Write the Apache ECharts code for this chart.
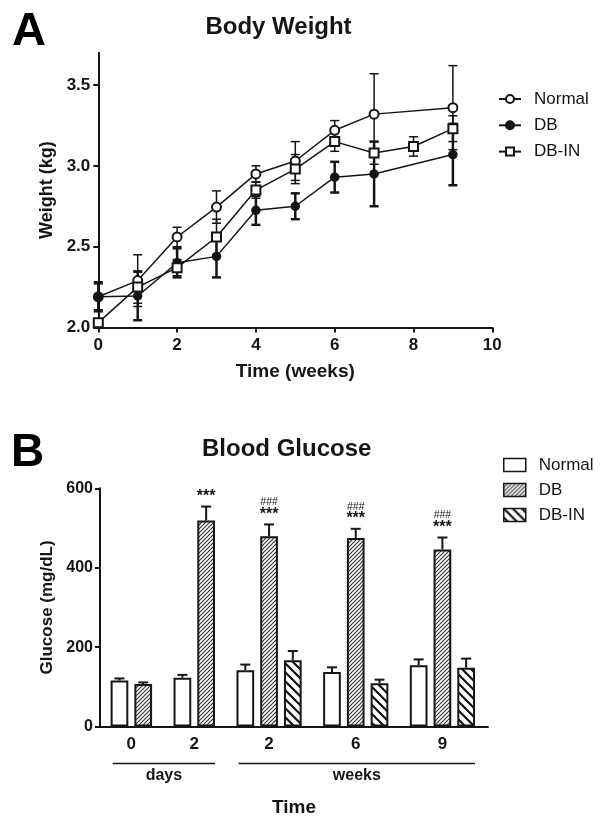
<!DOCTYPE html>
<html><head><meta charset="utf-8">
<script src="https://cdn.jsdelivr.net/npm/echarts@6/dist/echarts.min.js"></script>
<style>html,body{margin:0;padding:0;background:#fff}#c{width:604px;height:825px}</style>
</head><body><div id="c"></div>
<script>
const FONT = '"Liberation Sans", Arial, sans-serif';
const INK = '#151515';

// ---------- Panel A: Body Weight ----------
const seriesNames = ['Normal', 'DB', 'DB-IN'];
const weeksNormal = [0, 1, 2, 3, 4, 5, 6, 7, 9];
const weightNormal = [2.19, 2.29, 2.56, 2.745, 2.95, 3.03, 3.22, 3.32, 3.36];
const weightNormalErr = [0.08, 0.16, 0.06, 0.10, 0.05, 0.12, 0.06, 0.25, 0.26];
const weeksDB = [0, 1, 2, 3, 4, 5, 6, 7, 9];
const weightDB = [2.19, 2.195, 2.40, 2.44, 2.725, 2.75, 2.93, 2.95, 3.07];
const weightDBErr = [0.09, 0.15, 0.09, 0.13, 0.09, 0.08, 0.095, 0.20, 0.19];
const weeksDBIN = [0, 1, 2, 3, 4, 5, 6, 7, 8, 9];
const weightDBIN = [2.03, 2.25, 2.37, 2.56, 2.85, 2.98, 3.15, 3.08, 3.12, 3.23];
const weightDBINErr = [0.01, 0.10, 0.05, 0.11, 0.05, 0.09, 0.06, 0.07, 0.06, 0.08];
const weightTicks = [2.0, 2.5, 3.0, 3.5];

// ---------- Panel B: Blood Glucose ----------
const glucoseGroups = ['0', '2', '2', '6', '9'];
const glucoseNormal = [116, 123, 142, 137, 154];
const glucoseNormalErr = [5, 7, 14, 12, 15];
const glucoseDB = [107, 519, 479, 475, 446];
const glucoseDBErr = [4, 35, 30, 23, 30];
const glucoseDBIN = [null, null, 167, 109, 148];
const glucoseDBINErr = [null, null, 23, 9, 23];
const sigStars = ['', '***', '***', '***', '***'];
const sigHashes = ['', '', '###', '###', '###'];
const periodLabels = ['days', 'weeks'];
const periodGroups = [[0, 1], [2, 4]];

// ---------- layout of grouped bars (slot units on a value axis) ----------
const FIRST = 0.82, GROUP_GAP = 0.65, BAR_FRAC = 0.745, X_MAX_B = 16.34;
const gVals = [glucoseNormal, glucoseDB, glucoseDBIN];
const gErrs = [glucoseNormalErr, glucoseDBErr, glucoseDBINErr];
const barX = [[], [], []], groupCenter = [], groupFirst = [], groupLast = [];
let cur = FIRST;
glucoseGroups.forEach((_, g) => {
  const xs = [];
  gVals.forEach((vals, s) => {
    if (vals[g] != null) { barX[s][g] = cur; xs.push(cur); cur += 1; } else barX[s][g] = null;
  });
  cur += GROUP_GAP;
  groupFirst[g] = xs[0]; groupLast[g] = xs[xs.length - 1];
  groupCenter[g] = (xs[0] + xs[xs.length - 1]) / 2;
});

function hatch(size, lw, color, dir) {
  const c = document.createElement('canvas'); c.width = size; c.height = size;
  const ctx = c.getContext('2d');
  ctx.fillStyle = '#fff'; ctx.fillRect(0, 0, size, size);
  ctx.strokeStyle = color; ctx.lineWidth = lw; ctx.beginPath();
  if (dir > 0) {
    [0, size, 2 * size].forEach(k => { ctx.moveTo(k + 1, -1); ctx.lineTo(k - size - 1, size + 1); });
  } else {
    [-size, 0, size].forEach(k => { ctx.moveTo(k - 1, -1); ctx.lineTo(k + size + 1, size + 1); });
  }
  ctx.stroke();
  return { image: c, repeat: 'repeat' };
}
const fills = ['#ffffff', hatch(4, 1.1, '#333', 1), hatch(9, 2.2, '#111', -1)];

const chart = echarts.init(document.getElementById('c'), null, { renderer: 'canvas' });

function errA(name, xs, ys, es, lw) {
  return {
    name: name, type: 'custom', xAxisIndex: 0, yAxisIndex: 0, z: 2,
    data: xs.map((x, i) => [x, ys[i], es[i]]),
    encode: { x: 0, y: 1 },
    renderItem(params, api) {
      const x = api.value(0), y = api.value(1), e = api.value(2);
      const lo = api.coord([x, y - e]), hi = api.coord([x, y + e]);
      const hw = 4.5, st = { stroke: INK, lineWidth: lw };
      return { type: 'group', children: [
        { type: 'line', shape: { x1: lo[0], y1: lo[1], x2: hi[0], y2: hi[1] }, style: st },
        { type: 'line', shape: { x1: lo[0] - hw, y1: lo[1], x2: lo[0] + hw, y2: lo[1] }, style: st },
        { type: 'line', shape: { x1: hi[0] - hw, y1: hi[1], x2: hi[0] + hw, y2: hi[1] }, style: st }
      ] };
    }
  };
}
function lineA(name, xs, ys, symbol, size) {
  return {
    name: name, type: 'line', xAxisIndex: 0, yAxisIndex: 0, z: 3,
    data: xs.map((x, i) => [x, ys[i]]),
    symbol: symbol, symbolSize: size,
    lineStyle: { color: INK, width: 1.5 },
    itemStyle: { color: INK, borderColor: INK, borderWidth: 1.5 },
    emphasis: { disabled: true }
  };
}
function barB(s) {
  const data = [];
  glucoseGroups.forEach((_, g) => { if (gVals[s][g] != null) data.push([barX[s][g], gVals[s][g]]); });
  return {
    name: 'B:' + seriesNames[s], type: 'bar', xAxisIndex: 1, yAxisIndex: 1, z: 3,
    data: data, barWidth: 17.7, barGap: '-100%',
    itemStyle: { color: fills[s], borderColor: INK, borderWidth: 2 },
    emphasis: { disabled: true }
  };
}
function errB(s) {
  const data = [];
  glucoseGroups.forEach((_, g) => { if (gVals[s][g] != null) data.push([barX[s][g], gVals[s][g], gErrs[s][g], g]); });
  return {
    name: 'errB' + s, type: 'custom', xAxisIndex: 1, yAxisIndex: 1, z: 2,
    data: data, encode: { x: 0, y: 1 },
    renderItem(params, api) {
      const x = api.value(0), v = api.value(1), e = api.value(2), g = api.value(3);
      const p0 = api.coord([x, v]), p1 = api.coord([x, v + e]);
      const st = { stroke: INK, lineWidth: 2 }, hw = 5;
      const ch = [
        { type: 'line', shape: { x1: p0[0], y1: p0[1], x2: p1[0], y2: p1[1] }, style: st },
        { type: 'line', shape: { x1: p1[0] - hw, y1: p1[1], x2: p1[0] + hw, y2: p1[1] }, style: st }
      ];
      if (s === 1) {
        if (sigStars[g]) ch.push({ type: 'text', x: p1[0], y: p1[1] - 10, style: { text: sigStars[g], align: 'center', verticalAlign: 'middle', font: 'bold 16px ' + FONT, fill: INK } });
        if (sigHashes[g]) ch.push({ type: 'text', x: p1[0], y: p1[1] - 22, style: { text: sigHashes[g], align: 'center', verticalAlign: 'middle', font: '10.5px ' + FONT, fill: INK } });
      }
      return { type: 'group', children: ch };
    }
  };
}
const bracketSeries = {
  name: 'periods', type: 'custom', xAxisIndex: 1, yAxisIndex: 1, z: 2,
  data: periodGroups.map(p => [groupFirst[p[0]] - BAR_FRAC / 2 + 0.09, groupLast[p[1]] + BAR_FRAC / 2, 0]),
  encode: { x: [0, 1], y: 2 },
  renderItem(params, api) {
    const a = api.coord([api.value(0), 0]), b = api.coord([api.value(1), 0]);
    const y = a[1] + 37;
    return { type: 'group', children: [
      { type: 'line', shape: { x1: a[0], y1: y, x2: b[0], y2: y }, style: { stroke: INK, lineWidth: 1.5 } },
      { type: 'text', x: (a[0] + b[0]) / 2, y: a[1] + 49, style: { text: periodLabels[params.dataIndex], align: 'center', verticalAlign: 'middle', font: 'bold 16px ' + FONT, fill: INK } }
    ] };
  }
};

const axisLine = { show: true, lineStyle: { color: INK, width: 2 } };
const tick = { show: true, inside: false, length: 5, lineStyle: { color: INK, width: 2 } };
const tickLabel = { color: INK, fontFamily: FONT, fontWeight: 'bold', fontSize: 17, margin: 9 };
const nameStyle = (sz) => ({ color: INK, fontFamily: FONT, fontWeight: 'bold', fontSize: sz });

const option = {
  animation: false,
  backgroundColor: '#fff',
  graphic: [
    { type: 'text', x: 12, y: 32, style: { text: 'A', align: 'left', verticalAlign: 'middle', font: 'bold 47px ' + FONT, fill: '#000' } },
    { type: 'text', x: 278.5, y: 27, style: { text: 'Body Weight', align: 'center', verticalAlign: 'middle', font: 'bold 24px ' + FONT, fill: INK } },
    { type: 'text', x: 11, y: 453, style: { text: 'B', align: 'left', verticalAlign: 'middle', font: 'bold 46px ' + FONT, fill: '#000' } },
    { type: 'text', x: 286.7, y: 449, style: { text: 'Blood Glucose', align: 'center', verticalAlign: 'middle', font: 'bold 24px ' + FONT, fill: INK } }
  ],
  legend: [
    {
      data: seriesNames, orient: 'vertical', left: 493, top: 84, itemWidth: 22, itemHeight: 10, itemGap: 6.3,
      selectedMode: false,
      textStyle: { fontFamily: FONT, fontSize: 17, color: INK, padding: [0, 0, 0, 8], lineHeight: 20 }
    },
    {
      data: seriesNames.map(n => ({ name: 'B:' + n, icon: 'rect' })), orient: 'vertical', left: 498, top: 450,
      itemWidth: 22, itemHeight: 13, itemGap: 5, selectedMode: false,
      formatter: n => n.slice(2),
      itemStyle: { borderColor: INK, borderWidth: 1.5 },
      textStyle: { fontFamily: FONT, fontSize: 17, color: INK, padding: [0, 0, 0, 8], lineHeight: 20 }
    }
  ],
  grid: [
    { left: 98.3, top: 52.7, width: 394, height: 274.8, containLabel: false, outerBoundsMode: 'none' },
    { left: 100, top: 488.3, width: 388, height: 238.2, containLabel: false, outerBoundsMode: 'none' }
  ],
  xAxis: [
    {
      gridIndex: 0, type: 'value', min: 0, max: 10, interval: 2,
      axisLine: axisLine, axisTick: tick, axisLabel: tickLabel, splitLine: { show: false },
      name: 'Time (weeks)', nameLocation: 'middle', nameGap: 35, nameTextStyle: nameStyle(19)
    },
    {
      gridIndex: 1, type: 'value', min: 0, max: X_MAX_B,
      axisLine: axisLine, axisTick: { show: false }, splitLine: { show: false },
      axisLabel: Object.assign({}, tickLabel, {
        customValues: groupCenter,
        formatter: v => { const i = groupCenter.findIndex(c => Math.abs(c - v) < 1e-6); return i >= 0 ? glucoseGroups[i] : ''; }
      }),
      name: 'Time', nameLocation: 'middle', nameGap: 72, nameTextStyle: nameStyle(19)
    }
  ],
  yAxis: [
    {
      gridIndex: 0, type: 'value', min: 2.0, max: 3.7,
      axisLine: axisLine,
      axisTick: Object.assign({}, tick, { customValues: weightTicks }),
      axisLabel: Object.assign({}, tickLabel, { margin: 8, customValues: weightTicks, formatter: v => v.toFixed(1) }),
      splitLine: { show: false },
      name: 'Weight (kg)', nameLocation: 'middle', nameGap: 33, nameTextStyle: nameStyle(18)
    },
    {
      gridIndex: 1, type: 'value', min: 0, max: 600, interval: 200,
      axisLine: axisLine, axisTick: tick, axisLabel: Object.assign({}, tickLabel, { fontSize: 16, margin: 7 }),
      splitLine: { show: false },
      name: 'Glucose (mg/dL)', nameLocation: 'middle', nameGap: 38, nameTextStyle: nameStyle(17)
    }
  ],
  series: [
    errA('errNormal', weeksNormal, weightNormal, weightNormalErr, 1.5),
    errA('errDB', weeksDB, weightDB, weightDBErr, 2.5),
    errA('errDBIN', weeksDBIN, weightDBIN, weightDBINErr, 1.5),
    lineA('Normal', weeksNormal, weightNormal, 'emptyCircle', 9),
    lineA('DB', weeksDB, weightDB, 'circle', 8),
    lineA('DB-IN', weeksDBIN, weightDBIN, 'emptyRect', 9),
    errB(0), errB(1), errB(2),
    barB(0), barB(1), barB(2),
    bracketSeries
  ]
};
chart.setOption(option);
</script>
</body></html>
